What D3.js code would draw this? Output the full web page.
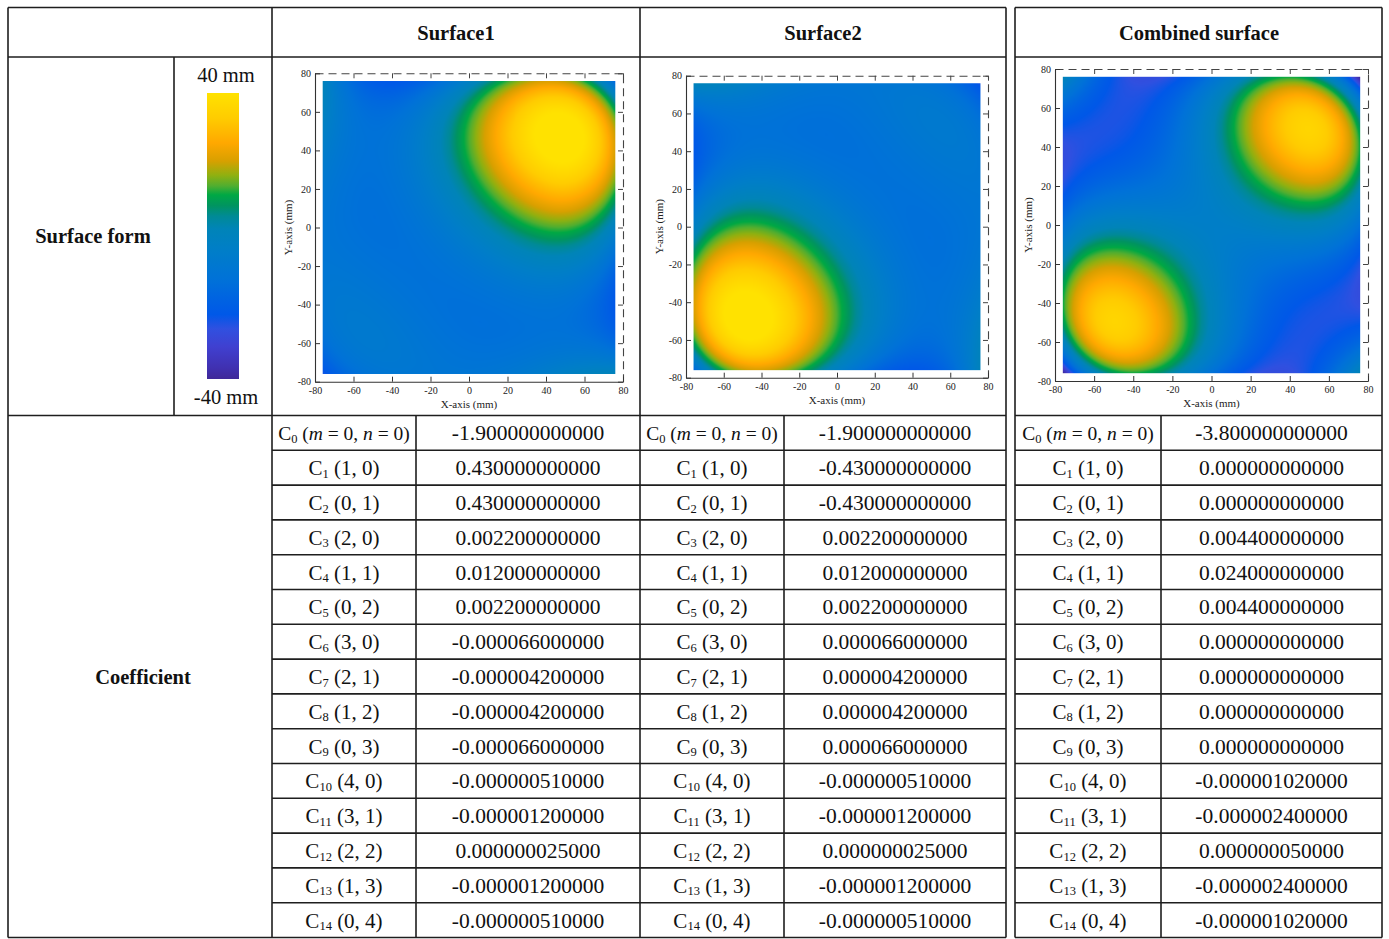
<!DOCTYPE html>
<html>
<head>
<meta charset="utf-8">
<script src="https://cdn.jsdelivr.net/npm/d3@7"></script>
<style>
body { margin: 0; background: #fff; }
text { font-family: "Liberation Serif", "Times New Roman", serif; white-space: pre; }
</style>
</head>
<body>
<script>
// ---- data ----
var surfaceNames = ['Surface1', 'Surface2', 'Combined surface'];
var termM = [0, 1, 0, 2, 1, 0, 3, 2, 1, 0, 4, 3, 2, 1, 0];
var termN = [0, 0, 1, 0, 1, 2, 0, 1, 2, 3, 0, 1, 2, 3, 4];
var coefSurface1 = [-1.9, 0.43, 0.43, 0.0022, 0.012, 0.0022, -0.000066, -0.0000042, -0.0000042, -0.000066,
  -0.00000051, -0.0000012, 0.000000025, -0.0000012, -0.00000051];
var coefSurface2 = [-1.9, -0.43, -0.43, 0.0022, 0.012, 0.0022, 0.000066, 0.0000042, 0.0000042, 0.000066,
  -0.00000051, -0.0000012, 0.000000025, -0.0000012, -0.00000051];
var coefCombined = [-3.8, 0, 0, 0.0044, 0.024, 0.0044, 0, 0, 0, 0,
  -0.00000102, -0.0000024, 0.00000005, -0.0000024, -0.00000102];
var axisTicks = [-80, -60, -40, -20, 0, 20, 40, 60, 80];
var axisDomain = [-80, 80];
var sampleExtent = [-76, 76];   // measured area of the part (mm)
var colorbarLabels = ['40 mm', '-40 mm'];
var colorValues = [40, 33, 26, 21, 17, 14, 11.5, 8.5, 5.5, 2, -4, -12, -18, -22, -26, -31, -37, -40];
var colorStops = ['#ffe200', '#ffcc00', '#ffa800', '#d8a000', '#90b010', '#50ae30', '#00a844', '#009460',
  '#008a96', '#0084b8', '#007ec8', '#0072d8', '#0062e2', '#0058e8', '#3050e0', '#4040d0', '#4030b0', '#402898'];

var W = 1389, H = 939;
var svg = d3.select('body').append('svg').attr('width', W).attr('height', H);

var locale = d3.formatLocale({ decimal: '.', thousands: ',', grouping: [3], currency: ['$', ''], minus: '-' });
var fmtCoef = locale.format('.12f');
var fmtTick = locale.format('d');

var color = d3.scaleLinear().domain(colorValues).range(colorStops).clamp(true);

// ---- table grid ----
var lineCol = '#1e1e1e';
var tTop = 7.5, headBot = 57, formBot = 415.5, tBot = 937.5;
var rowH = (tBot - formBot) / termM.length;

function hline(x1, x2, y) {
  svg.append('line').attr('x1', x1).attr('x2', x2).attr('y1', y).attr('y2', y)
    .attr('stroke', lineCol).attr('stroke-width', 1.6);
}
function vline(x, y1, y2) {
  svg.append('line').attr('x1', x).attr('x2', x).attr('y1', y1).attr('y2', y2)
    .attr('stroke', lineCol).attr('stroke-width', 1.6);
}

// two tables side by side: (row headers + Surface1 + Surface2) and Combined
[[8, 1006], [1015, 1382]].forEach(function(t) {
  hline(t[0], t[1], tTop);
  hline(t[0], t[1], headBot);
  hline(t[0], t[1], formBot);
  hline(t[0], t[1], tBot);
  vline(t[0], tTop, tBot);
  vline(t[1], tTop, tBot);
});
vline(272, tTop, tBot);
vline(640, tTop, tBot);
vline(174, headBot, formBot);
vline(416, formBot, tBot);
vline(784, formBot, tBot);
vline(1161, formBot, tBot);
d3.range(1, termM.length).forEach(function(i) {
  var y = formBot + i * rowH;
  hline(272, 1006, y);
  hline(1015, 1382, y);
});

// ---- headers ----
var headerX = [456, 823, 1199];
surfaceNames.forEach(function(s, i) {
  svg.append('text').attr('x', headerX[i]).attr('y', 39.5).attr('text-anchor', 'middle')
    .attr('font-size', 20.5).attr('font-weight', 'bold').attr('fill', '#111').text(s);
});
svg.append('text').attr('x', 93).attr('y', 243).attr('text-anchor', 'middle')
  .attr('font-size', 20.5).attr('font-weight', 'bold').attr('fill', '#111').text('Surface form');
svg.append('text').attr('x', 143).attr('y', 684).attr('text-anchor', 'middle')
  .attr('font-size', 20.5).attr('font-weight', 'bold').attr('fill', '#111').text('Coefficient');

// ---- colorbar ----
var cb = { x: 207, y: 93, w: 32, h: 286 };
var cbScale = d3.scaleLinear().domain([40, -40]).range([0, 1]);
var grad = svg.append('defs').append('linearGradient').attr('id', 'cbar')
  .attr('x1', 0).attr('x2', 0).attr('y1', 0).attr('y2', 1);
grad.selectAll('stop').data(colorValues).join('stop')
  .attr('offset', function(d) { return cbScale(d); })
  .attr('stop-color', function(d) { return color(d); });
svg.append('rect').attr('x', cb.x).attr('y', cb.y).attr('width', cb.w).attr('height', cb.h)
  .attr('fill', 'url(#cbar)');
svg.append('text').attr('x', 226).attr('y', 82).attr('text-anchor', 'middle')
  .attr('font-size', 20.5).attr('fill', '#111').text(colorbarLabels[0]);
svg.append('text').attr('x', 226).attr('y', 404).attr('text-anchor', 'middle')
  .attr('font-size', 20.5).attr('fill', '#111').text(colorbarLabels[1]);

// ---- surface maps (evaluated from the table coefficients) ----
function surfaceValue(coefs, x, y) {
  var z = 0;
  for (var k = 0; k < coefs.length; k++) z += coefs[k] * Math.pow(x, termM[k]) * Math.pow(y, termN[k]);
  return z;
}

var plots = [
  { coefs: coefSurface1, x0: 315, x1: 623, yT: 73.3, yB: 381.7 },
  { coefs: coefSurface2, x0: 686, x1: 988, yT: 75.7, yB: 377.7 },
  { coefs: coefCombined, x0: 1055, x1: 1368, yT: 69, yB: 381 }
];

plots.forEach(function(p) {
  var xs = d3.scaleLinear().domain(axisDomain).range([p.x0, p.x1]);
  var ys = d3.scaleLinear().domain(axisDomain).range([p.yB, p.yT]);
  var g = svg.append('g');

  // heat map raster
  var px0 = xs(sampleExtent[0]), px1 = xs(sampleExtent[1]);
  var py0 = ys(sampleExtent[1]), py1 = ys(sampleExtent[0]);
  var cw = Math.round(px1 - px0), ch = Math.round(py1 - py0);
  var canvas = document.createElement('canvas');
  canvas.width = cw; canvas.height = ch;
  var ctx = canvas.getContext('2d');
  var img = ctx.createImageData(cw, ch);
  for (var j = 0; j < ch; j++) {
    for (var i = 0; i < cw; i++) {
      var xv = xs.invert(px0 + (i + 0.5) * (px1 - px0) / cw);
      var yv = ys.invert(py0 + (j + 0.5) * (py1 - py0) / ch);
      var c = d3.rgb(color(surfaceValue(p.coefs, xv, yv)));
      var o = (j * cw + i) * 4;
      img.data[o] = c.r; img.data[o + 1] = c.g; img.data[o + 2] = c.b; img.data[o + 3] = 255;
    }
  }
  ctx.putImageData(img, 0, 0);
  g.append('image').attr('href', canvas.toDataURL())
    .attr('x', px0).attr('y', py0).attr('width', px1 - px0).attr('height', py1 - py0)
    .attr('preserveAspectRatio', 'none');

  // dashed top and right frame
  var topAx = g.append('g').attr('transform', 'translate(0,' + p.yT + ')')
    .call(d3.axisTop(xs).tickValues(axisTicks).tickSizeInner(-5).tickSizeOuter(0).tickFormat(''));
  var rightAx = g.append('g').attr('transform', 'translate(' + p.x1 + ',0)')
    .call(d3.axisRight(ys).tickValues(axisTicks).tickSizeInner(-5).tickSizeOuter(0).tickFormat(''));
  [topAx, rightAx].forEach(function(a) {
    a.select('.domain').attr('stroke', '#444').attr('stroke-width', 1.1).attr('stroke-dasharray', '8,5');
    a.selectAll('.tick line').attr('stroke', '#444');
  });

  // solid bottom and left axes
  var bx = g.append('g').attr('transform', 'translate(0,' + p.yB + ')')
    .call(d3.axisBottom(xs).tickValues(axisTicks).tickSizeInner(-5).tickSizeOuter(0).tickPadding(5).tickFormat(fmtTick));
  var ly = g.append('g').attr('transform', 'translate(' + p.x0 + ',0)')
    .call(d3.axisLeft(ys).tickValues(axisTicks).tickSizeInner(-5).tickSizeOuter(0).tickPadding(4).tickFormat(fmtTick));
  [bx, ly].forEach(function(a) {
    a.attr('font-family', null).attr('font-size', null);
    a.select('.domain').attr('stroke', '#333').attr('stroke-width', 1.1);
    a.selectAll('.tick line').attr('stroke', '#333');
    a.selectAll('.tick text').attr('font-size', 10).attr('fill', '#222');
  });

  g.append('text').attr('x', xs(0)).attr('y', p.yB + 26).attr('text-anchor', 'middle')
    .attr('font-size', 11).attr('fill', '#222').text('X-axis (mm)');
  g.append('text').attr('transform', 'translate(' + (p.x0 - 23) + ',' + ys(0) + ') rotate(-90)')
    .attr('text-anchor', 'middle').attr('font-size', 11).attr('fill', '#222').text('Y-axis (mm)');
});

// ---- coefficient tables ----
var coefCols = [
  { labelX: 344, valueX: 528, coefs: coefSurface1 },
  { labelX: 712, valueX: 895, coefs: coefSurface2 },
  { labelX: 1088, valueX: 1271.5, coefs: coefCombined }
];

coefCols.forEach(function(col) {
  termM.forEach(function(m, k) {
    var cy = formBot + (k + 0.5) * rowH + 7.5;
    var t = svg.append('text').attr('x', col.labelX).attr('y', cy).attr('text-anchor', 'middle')
      .attr('font-size', k === 0 ? 19.5 : 21).attr('fill', '#111');
    t.append('tspan').text('C');
    t.append('tspan').attr('font-size', 12.5).attr('dy', 2.5).text(k);
    if (k === 0) {
      t.append('tspan').attr('dy', -2.5).text(' (');
      t.append('tspan').attr('font-style', 'italic').text('m');
      t.append('tspan').text(' = ' + m + ', ');
      t.append('tspan').attr('font-style', 'italic').text('n');
      t.append('tspan').text(' = ' + termN[k] + ')');
    } else {
      t.append('tspan').attr('dy', -2.5).text(' (' + m + ', ' + termN[k] + ')');
    }
    svg.append('text').attr('x', col.valueX).attr('y', cy).attr('text-anchor', 'middle')
      .attr('font-size', 21.5).attr('fill', '#111').text(fmtCoef(col.coefs[k]));
  });
});
</script>
</body>
</html>
